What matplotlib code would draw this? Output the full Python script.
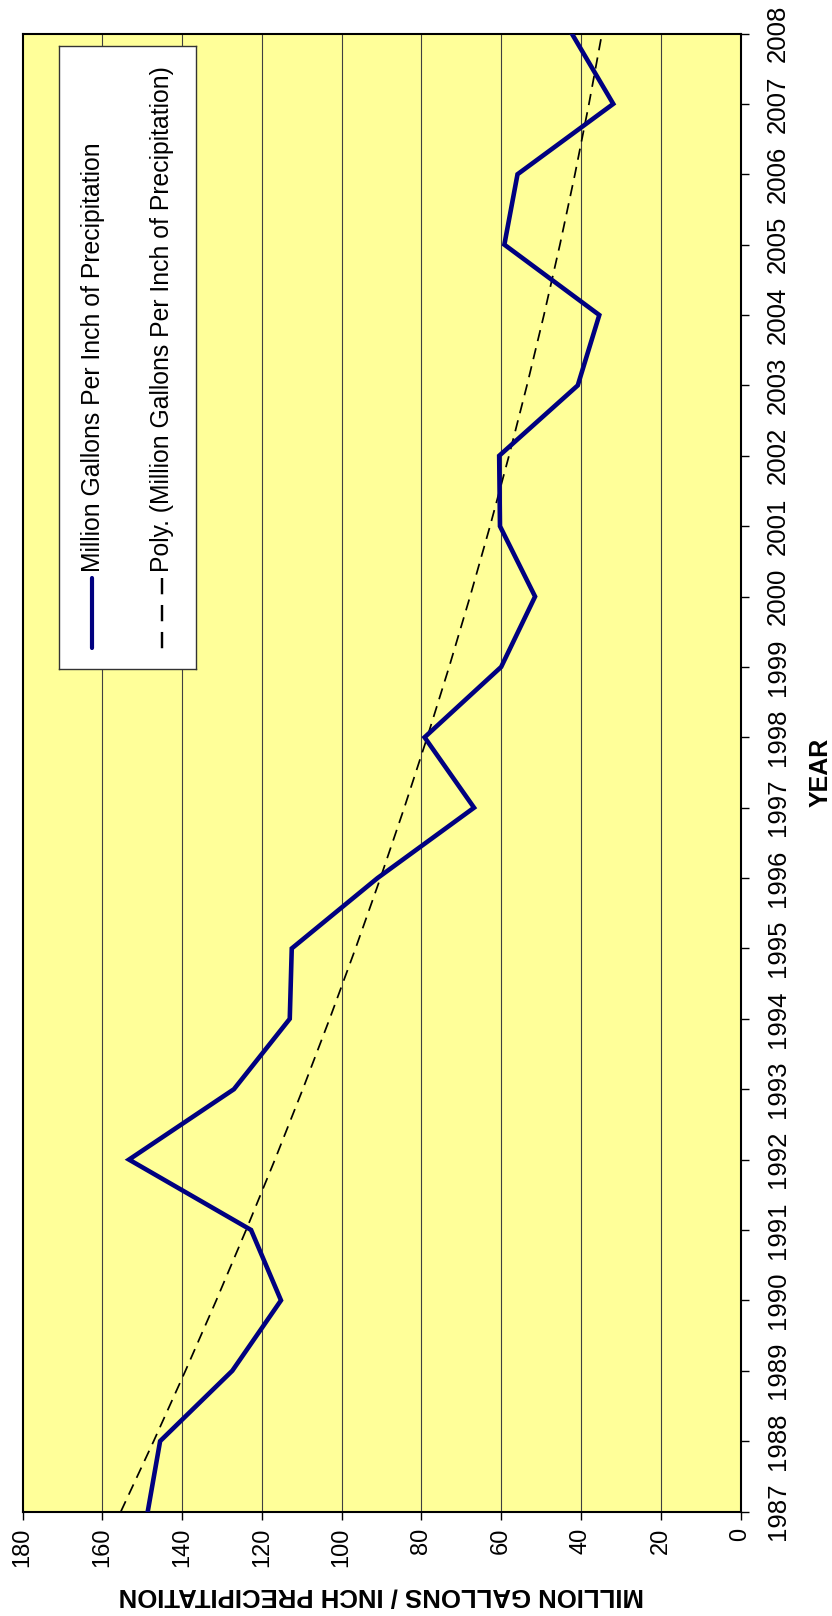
import numpy as np
import matplotlib
matplotlib.use("Agg")
import matplotlib.pyplot as plt

plt.rcParams['font.family'] = ['Liberation Sans', 'DejaVu Sans']

# Annual water use per inch of precipitation
years = [1987, 1988, 1989, 1990, 1991, 1992, 1993, 1994, 1995, 1996, 1997,
         1998, 1999, 2000, 2001, 2002, 2003, 2004, 2005, 2006, 2007, 2008]
gallons_per_inch = [148.6, 145.5, 127.4, 115.2, 122.7, 153.3, 127.0, 113.0,
                    112.5, 91.0, 66.8, 79.2, 60.0, 51.5, 60.3, 60.5, 40.8,
                    35.4, 59.2, 55.9, 31.9, 42.3]
value_ticks = [0, 20, 40, 60, 80, 100, 120, 140, 160, 180]

series_label = "Million Gallons Per Inch of Precipitation"
trend_label = "Poly. (Million Gallons Per Inch of Precipitation)"
value_title = "MILLION GALLONS / INCH PRECIPITATION"
year_title = "YEAR"

# second-order polynomial trend through the series
yr = np.array(years, dtype=float)
coef = np.polyfit(yr - yr[0], np.array(gallons_per_inch), 2)
trend = np.polyval(coef, yr - yr[0])

W, H = 832, 1616
fig = plt.figure(figsize=(W / 100, H / 100), dpi=100)
fig.patch.set_facecolor('white')

# chart is laid on its side: values run right-to-left, years bottom-to-top
left, right, top, bottom = 22.5, 740.5, 33.5, 1511.5
ax = fig.add_axes([left / W, 1 - bottom / H, (right - left) / W, (bottom - top) / H])
ax.set_facecolor('#FFFF99')

ax.plot(trend, years, color='black', lw=1.25, dashes=(6.5, 4.2), zorder=3)
ax.plot(gallons_per_inch, years, color='#000080', lw=3.3, zorder=4,
        solid_joinstyle='miter')

ax.set_xlim(180, 0)
ax.set_ylim(1987, 2008)
ax.set_xticks(value_ticks)
ax.set_xticklabels([str(v) for v in value_ticks], rotation=90, fontsize=17)
ax.set_yticks(years)
ax.set_yticklabels([str(y) for y in years], rotation=90, fontsize=18.5,
                   va='center')
ax.yaxis.tick_right()
ax.yaxis.set_label_position('right')
ax.tick_params(axis='x', direction='out', length=5.5, width=1.0, pad=6)
ax.tick_params(axis='y', direction='out', length=5.5, width=1.0, pad=13)

for v in value_ticks[1:-1]:
    ax.axvline(v, color='#404040', lw=0.8, zorder=1)

for s in ax.spines.values():
    s.set_linewidth(1.5)
    s.set_color('black')

ax.set_xlabel(value_title, rotation=180, fontsize=18.5, fontweight='bold',
              labelpad=12)
ax.set_ylabel(year_title, rotation=90, fontsize=18, fontweight='bold',
              labelpad=13.5)

# legend box, drawn on its side like the rest of the chart
lx0, lx1, ly0, ly1 = 59, 196, 46, 669
lax = fig.add_axes([lx0 / W, 1 - ly1 / H, (lx1 - lx0) / W, (ly1 - ly0) / H])
lax.set_xlim(lx0, lx1)
lax.set_ylim(ly1, ly0)
lax.set_xticks([])
lax.set_yticks([])
lax.set_facecolor('white')
for s in lax.spines.values():
    s.set_linewidth(1.0)
    s.set_color('#333333')

lax.plot([92, 92], [578, 648], color='#000080', lw=3.0, solid_capstyle='round')
lax.text(93, 572, series_label, rotation=90, rotation_mode='anchor',
         ha='left', va='center', fontsize=17.8)
lax.plot([161.5, 161.5], [578, 649], color='black', lw=1.75, dashes=(6.7, 4.4))
lax.text(162.5, 572, trend_label, rotation=90, rotation_mode='anchor',
         ha='left', va='center', fontsize=17.8)

fig.savefig('out.png', dpi=100, facecolor='white')
